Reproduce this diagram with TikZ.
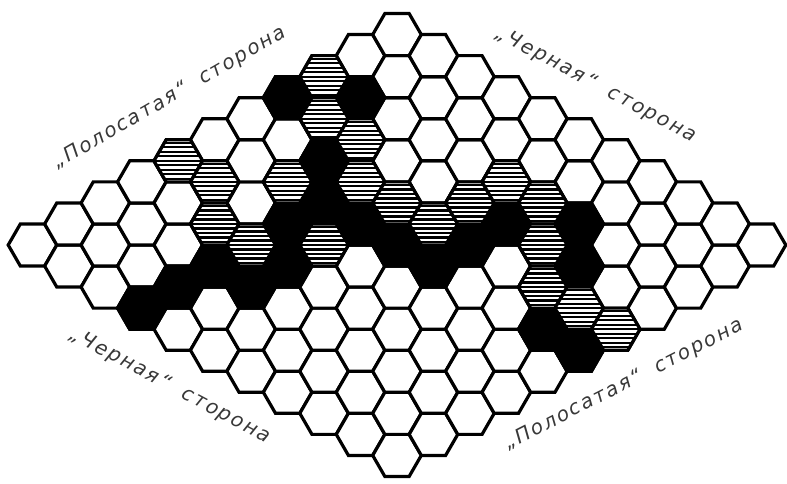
\documentclass[tikz,border=0pt]{standalone}
\usepackage{fontspec}
\newfontfamily\lab{DejaVu Sans}[LetterSpace=10]
\usetikzlibrary{shapes.geometric}
\begin{document}
\begin{tikzpicture}[x=1pt,y=1pt,
  hexcell/.style={regular polygon, regular polygon sides=6, minimum size=48.6pt,
    inner sep=0pt, outer sep=0pt, draw=black, line width=3.2pt, fill=white},
  blackcell/.style={hexcell, fill=black},
  stripecell/.style={hexcell, path picture={
    \foreach \k in {-5,...,5}{
      \draw[line width=2.2pt] ([yshift=\k*4.5pt]path picture bounding box.west) --
        ([yshift=\k*4.5pt]path picture bounding box.east);}}},
  side/.style={font=\lab\itshape\fontsize{20}{24}\selectfont, text=black!78, inner sep=0pt}
]
\useasboundingbox (0,0) rectangle (787,483);
% board 11 x 11
\foreach \i in {0,...,10}{
  \foreach \j in {0,...,10}{
    \node[hexcell] (c-\i-\j) at ({397+36.45*(\i+\j-10)},{238+21.04*(\i-\j)}) {};
  }
}
% black stones
\foreach \i/\j in {7/0,8/1,6/2,5/3,4/3,5/4,5/5,3/4,2/4,2/3,1/3,0/3,5/6,6/6,7/6,8/7,7/8,5/9,5/10}{
  \node[blackcell] (b-\i-\j) at (c-\i-\j) {};
}
% striped stones
\foreach \i/\j in {4/0,4/1,3/2,3/3,5/2,8/0,7/1,7/2,6/3,4/4,6/4,6/5,7/5,8/5,8/6,7/7,6/8,6/9,6/10}{
  \node[stripecell] (s-\i-\j) at (c-\i-\j) {};
}
% side labels
\node[side, rotate=30] (tl) at (170,385) {„Полосатая“\hspace{16pt}сторона};
\node[side, rotate=-28] (tr) at (596,398) {„Черная“\hspace{16pt}сторона};
\node[side, rotate=-28] (bl) at (170,97) {„Черная“\hspace{16pt}сторона};
\node[side, rotate=27] (br) at (624,98) {„Полосатая“\hspace{16pt}сторона};
\end{tikzpicture}
\end{document}
